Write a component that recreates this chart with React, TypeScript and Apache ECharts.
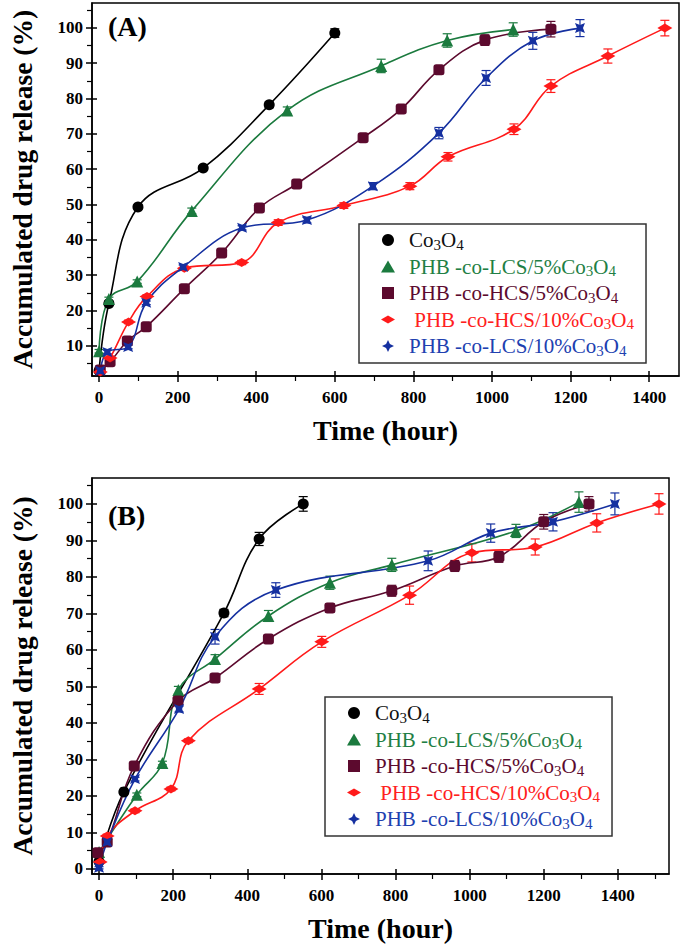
import React, { useEffect, useRef } from "react";
import * as echarts from "echarts";

// ---------- Panel A data: [time (hour), release (%)] ----------
const aCo3O4 = [[0, 3], [25, 22], [99, 49.3], [265, 60.3], [433, 78.2], [600, 98.5]];
const aCo3O4Err = [0.3, 0.5, 0.6, 0.6, 0.8, 1.2];
const aLCS5 = [[0, 8.5], [25, 23.3], [97, 28.2], [236, 48.2], [479, 76.6], [718, 89.2], [886, 96.4], [1054, 99.5]];
const aLCS5Err = [0.5, 0.5, 0.5, 0.8, 1.0, 1.9, 1.9, 1.9];
const aHCS5 = [[3, 3.2], [28, 5.5], [72, 11.4], [120, 15.4], [217, 26.2], [312, 36.3], [408, 49], [503, 55.8], [672, 68.9], [769, 77], [865, 88.1], [982, 96.5], [1150, 99.6]];
const aHCS5Err = [0.3, 0.5, 0.5, 0.5, 0.6, 0.6, 0.8, 0.8, 1, 1, 1.2, 1.5, 2.2];
const aHCS10 = [[3, 2.6], [28, 6.6], [75, 16.8], [122, 24], [217, 32], [363, 33.6], [456, 44.9], [623, 49.7], [791, 55.2], [888, 63.5], [1056, 71.3], [1150, 83.5], [1295, 92], [1440, 99.9]];
const aHCS10Err = [0.3, 0.5, 0.5, 0.5, 0.6, 0.6, 0.8, 0.8, 1, 1.2, 1.5, 1.8, 2, 2.2];
const aLCS10 = [[3, 3], [21, 8.3], [74, 9.7], [120, 22.2], [214, 32.3], [364, 43.4], [529, 45.6], [697, 55.2], [865, 70.2], [985, 85.8], [1104, 96.3], [1224, 99.9]];
const aLCS10Err = [0.3, 0.5, 0.5, 0.5, 0.6, 0.6, 0.8, 1, 1.6, 2.1, 2.4, 2.4];

// ---------- Panel B data ----------
const bCo3O4 = [[0, 2], [67, 21.1], [337, 70.1], [432, 90.4], [551, 100]];
const bCo3O4Err = [0.5, 0.5, 1, 1.8, 2];
const bLCS5 = [[0, 4.6], [102, 20.3], [171, 29], [214, 49], [313, 57.5], [457, 69.3], [623, 78.4], [790, 83.3], [1125, 92.6], [1295, 100.5]];
const bLCS5Err = [0.5, 0.5, 0.5, 1, 1.2, 1.5, 1.8, 1.8, 1.8, 2.8];
const bHCS5 = [[-3, 4.4], [22, 7.4], [95, 28.2], [213, 46], [313, 52.3], [457, 63], [623, 71.5], [790, 76.2], [960, 83], [1079, 85.5], [1200, 95.1], [1322, 100]];
const bHCS5Err = [0.5, 0.5, 0.5, 1, 1, 1, 1.2, 1.5, 1.5, 1.5, 2, 2];
const bHCS10 = [[3, 1.9], [22, 9], [97, 15.9], [194, 21.9], [241, 35.1], [432, 49.3], [601, 62.2], [838, 75], [1006, 86.6], [1177, 88.2], [1343, 94.8], [1511, 100]];
const bHCS10Err = [0.3, 0.5, 0.5, 0.5, 0.5, 1.5, 1.5, 2.5, 2.5, 2.2, 2.5, 2.8];
const bLCS10 = [[0, 0.3], [22, 7.4], [97, 24.6], [216, 43.8], [313, 63.6], [477, 76.4], [888, 84.4], [1057, 92], [1225, 95.1], [1392, 100]];
const bLCS10Err = [0.3, 0.5, 0.5, 0.8, 2, 2, 2.7, 2.5, 2.5, 3];

// ---------- Labels & ticks ----------
const seriesNames = ["Co₃O₄", "PHB -co-LCS/5%Co₃O₄", "PHB -co-HCS/5%Co₃O₄", "PHB -co-HCS/10%Co₃O₄", "PHB -co-LCS/10%Co₃O₄"];
const xMajor = [0, 200, 400, 600, 800, 1000, 1200, 1400];
const xMinorA = [100, 300, 500, 700, 900, 1100, 1300];
const xMinorB = [100, 300, 500, 700, 900, 1100, 1300, 1500];
const yMajorA = [10, 20, 30, 40, 50, 60, 70, 80, 90, 100];
const yMinorA = [5, 15, 25, 35, 45, 55, 65, 75, 85, 95, 105];
const yMajorB = [0, 10, 20, 30, 40, 50, 60, 70, 80, 90, 100];
const yMinorB = [5, 15, 25, 35, 45, 55, 65, 75, 85, 95, 105];
const xTitle = "Time (hour)";
const yTitle = "Accumulated drug release (%)";

const FONT = "'Liberation Serif', 'Times New Roman', serif";
const COLORS = ["#000000", "#1b7a3e", "#5c0a2e", "#ff1a1a", "#1530a0"];
const TEXT_COLORS = ["#111111", "#1f7f45", "#5c0a2e", "#ff2020", "#2040b0"];
const STAR = "path://M0,0 L5,2 L10,0 L8,5 L10,10 L5,8 L0,10 L2,5 Z";
const SYMBOLS: any[] = ["circle", "triangle", "roundRect", "diamond", STAR];
const SIZES: any[] = [11, 12, 11, [15, 9], 10];
const LEGEND_ICONS = [
  "circle",
  "triangle",
  "path://M0,0 L10,0 L10,10 L0,10 Z",
  "path://M0,5 L9,0 L18,5 L9,10 Z",
  "path://M5,0 L6.6,3.4 L10,5 L6.6,6.6 L5,10 L3.4,6.6 L0,5 L3.4,3.4 Z",
];

function buildAxes(grid: number, dim: "x" | "y", min: number, max: number, majors: number[], minors: number[], title: string, nameGap: number) {
  const base: any = {
    type: "value",
    gridIndex: grid,
    min,
    max,
    position: dim === "x" ? "bottom" : "left",
    splitLine: { show: false },
  };
  const lineStyle = { color: "#000", width: 1.5 };
  const main = {
    ...base,
    axisLine: { show: true, onZero: false, lineStyle },
    axisTick: { show: true, customValues: majors, length: 6, lineStyle },
    axisLabel: {
      show: true,
      customValues: majors,
      margin: dim === "x" ? 13 : 9,
      fontSize: 17,
      fontWeight: "bold",
      color: "#000",
      fontFamily: FONT,
      formatter: (v: number) => String(v),
    },
    name: title,
    nameLocation: "middle",
    nameGap,
    nameRotate: dim === "y" ? 90 : 0,
    nameTextStyle: { fontSize: dim === "x" ? 28 : 27.5, fontWeight: "bold", color: "#000", fontFamily: FONT },
  };
  const inner = {
    ...base,
    axisLine: { show: false, onZero: false },
    axisTick: { show: true, inside: true, customValues: majors, length: 5, lineStyle },
    axisLabel: { show: false },
  };
  const minor = {
    ...base,
    axisLine: { show: false, onZero: false },
    axisTick: { show: true, customValues: minors, length: 5, lineStyle: { color: "#000", width: 1.2 } },
    axisLabel: { show: false },
  };
  return [main, inner, minor];
}

function lineSeries(name: string, i: number, data: number[][], xi: number, yi: number) {
  return {
    type: "line",
    name,
    data,
    xAxisIndex: xi,
    yAxisIndex: yi,
    smooth: 0.4,
    symbol: SYMBOLS[i],
    symbolSize: SIZES[i],
    showSymbol: true,
    lineStyle: { color: COLORS[i], width: 1.6 },
    itemStyle: { color: COLORS[i], borderWidth: 0 },
    z: 3,
  };
}

function errSeries(i: number, data: number[][], err: number[], xi: number, yi: number, tag: string) {
  const color = COLORS[i];
  return {
    type: "custom",
    name: "err-" + tag + i,
    xAxisIndex: xi,
    yAxisIndex: yi,
    data: data.map((d, k) => [d[0], d[1], err[k]]),
    encode: { x: 0, y: 1 },
    z: 2,
    renderItem: (_params: any, api: any) => {
      const x = api.value(0);
      const y = api.value(1);
      const e = api.value(2);
      const top = api.coord([x, y + e]);
      const bot = api.coord([x, y - e]);
      const cap = 4.5;
      const style = { stroke: color, lineWidth: 1.2, fill: "none" };
      return {
        type: "group",
        children: [
          { type: "line", shape: { x1: top[0], y1: top[1], x2: bot[0], y2: bot[1] }, style },
          { type: "line", shape: { x1: top[0] - cap, y1: top[1], x2: top[0] + cap, y2: top[1] }, style },
          { type: "line", shape: { x1: bot[0] - cap, y1: bot[1], x2: bot[0] + cap, y2: bot[1] }, style },
        ],
      };
    },
  };
}

// rich-text styles: main text and lowered subscripts, one pair per colour
const RICH: any = {};
TEXT_COLORS.forEach((c, i) => {
  RICH["t" + i] = { fontSize: 21, fontFamily: FONT, color: c, lineHeight: 24 };
  RICH["s" + i] = { fontSize: 15, fontFamily: FONT, color: c, lineHeight: 15, padding: [9, 0, 0, 0] };
});

function legendFormatter(name: string) {
  const i = seriesNames.indexOf(name);
  const prefix = name.replace("Co₃O₄", "");
  const lead = i === 3 ? " " : "";
  return `{t${i}|${lead}${prefix}Co}{s${i}|3}{t${i}|O}{s${i}|4}`;
}

function legend(left: number, top: number) {
  return {
    orient: "vertical",
    left,
    top,
    padding: [4, 12, 5, 22],
    itemGap: 2.5,
    itemWidth: 14,
    itemHeight: 12,
    borderColor: "#333",
    borderWidth: 1.5,
    backgroundColor: "#fff",
    selectedMode: false,
    formatter: legendFormatter,
    textStyle: { fontSize: 21, fontFamily: FONT, padding: [0, 0, 0, 9], rich: RICH },
    data: seriesNames.map((n, i) => ({
      name: n,
      icon: LEGEND_ICONS[i],
      itemStyle: { color: COLORS[i] },
      textStyle: { color: TEXT_COLORS[i], padding: [0, 0, 0, 9], rich: RICH },
    })),
  };
}

export default function App() {
  const ref = useRef<HTMLDivElement>(null);
  useEffect(() => {
    document.body.style.margin = "0";
    if (!ref.current) return;
    const chart = echarts.init(ref.current, null, { renderer: "svg" });

    const xA = buildAxes(0, "x", -18, 1476, xMajor, xMinorA, xTitle, 40);
    const xB = buildAxes(1, "x", -19, 1538, xMajor, xMinorB, xTitle, 40);
    const yA = buildAxes(0, "y", 1.5, 107, yMajorA, yMinorA, yTitle, 56);
    const yB = buildAxes(1, "y", -1.4, 107.1, yMajorB, yMinorB, yTitle, 56);

    const dataA = [aCo3O4, aLCS5, aHCS5, aHCS10, aLCS10];
    const errA = [aCo3O4Err, aLCS5Err, aHCS5Err, aHCS10Err, aLCS10Err];
    const dataB = [bCo3O4, bLCS5, bHCS5, bHCS10, bLCS10];
    const errB = [bCo3O4Err, bLCS5Err, bHCS5Err, bHCS10Err, bLCS10Err];

    const series: any[] = [];
    dataA.forEach((d, i) => series.push(errSeries(i, d, errA[i], 0, 0, "A")));
    dataB.forEach((d, i) => series.push(errSeries(i, d, errB[i], 3, 3, "B")));
    dataA.forEach((d, i) => series.push(lineSeries(seriesNames[i], i, d, 0, 0)));
    dataB.forEach((d, i) => series.push(lineSeries(seriesNames[i], i, d, 3, 3)));

    chart.setOption({
      animation: false,
      backgroundColor: "#fff",
      grid: [
        { left: 92, top: 3, width: 587, height: 373, show: true, borderColor: "#000", borderWidth: 1.5, containLabel: false, outerBoundsMode: "none" },
        { left: 92, top: 478, width: 577, height: 396, show: true, borderColor: "#000", borderWidth: 1.5, containLabel: false, outerBoundsMode: "none" },
      ],
      xAxis: [...xA, ...xB],
      yAxis: [...yA, ...yB],
      legend: [legend(359, 224), legend(325, 697)],
      graphic: [
        { type: "text", left: 108, top: 12, style: { text: "(A)", font: `bold 28px ${FONT}`, fill: "#000" } },
        { type: "text", left: 108, top: 501, style: { text: "(B)", font: `bold 28px ${FONT}`, fill: "#000" } },
      ],
      series,
    });
    return () => chart.dispose();
  }, []);
  return <div ref={ref} style={{ width: 684, height: 945 }} />;
}
